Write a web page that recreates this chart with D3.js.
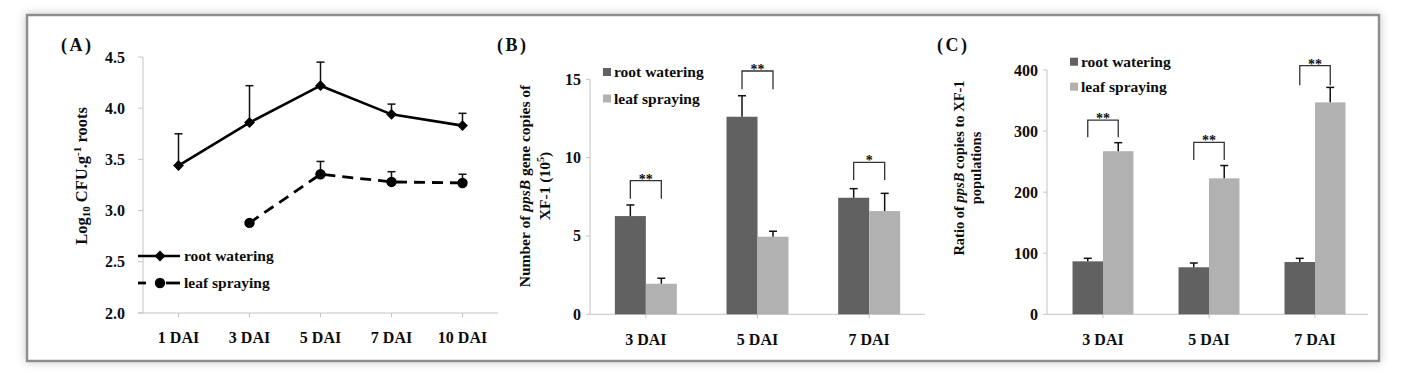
<!DOCTYPE html>
<html><head><meta charset="utf-8">
<script src="https://cdn.jsdelivr.net/npm/d3@7"></script>
<style>
body{margin:0;background:#fff;}
svg text{font-family:"Liberation Serif","Times New Roman",serif;font-weight:bold;fill:#0d0d0d;}
</style></head>
<body><svg id="chart" width="1408" height="382"></svg>
<script>
// ---------- data ----------
const catsA = ["1 DAI","3 DAI","5 DAI","7 DAI","10 DAI"];
const rootA = [3.44, 3.86, 4.22, 3.94, 3.83];
const rootAErr = [0.31, 0.36, 0.23, 0.10, 0.12];
const leafA = [null, 2.88, 3.355, 3.28, 3.27];
const leafAErr = [null, 0.0, 0.125, 0.10, 0.085];
const ticksA = [2.0, 2.5, 3.0, 3.5, 4.0, 4.5];

const catsBC = ["3 DAI","5 DAI","7 DAI"];
const seriesNames = ["root watering","leaf spraying"];
const rootB = [6.27, 12.61, 7.44];
const rootBErr = [0.71, 1.34, 0.58];
const leafB = [1.95, 4.95, 6.59];
const leafBErr = [0.35, 0.35, 1.13];
const ticksB = [0, 5, 10, 15];
const sigB = ["**","**","*"];
const sigBTop = [8.53, 15.53, 9.70];
const sigBLeg = [7.38, 14.36, 8.57];

const rootC = [86.7, 77.0, 85.6];
const rootCErr = [5.0, 7.0, 6.0];
const leafC = [267, 222.6, 347];
const leafCErr = [14, 21, 24.5];
const ticksC = [0, 100, 200, 300, 400];
const sigC = ["**","**","**"];
const sigCTop = [318, 281.5, 407];
const sigCLeg = [289.7, 252.5, 375];

const DARK = "#616161", LIGHT = "#b1b1b1", AXIS = "#c4c4c4";

const svg = d3.select("#chart");
const defs = svg.append("defs");
const f = defs.append("filter").attr("id","sh").attr("x","-5%").attr("y","-20%").attr("width","110%").attr("height","140%");
f.append("feDropShadow").attr("dx",0).attr("dy",0).attr("stdDeviation",5).attr("flood-color","#000").attr("flood-opacity",0.22);

svg.append("rect").attr("x",27).attr("y",15).attr("width",1352).attr("height",346)
  .attr("fill","#fff").attr("stroke","#8e8e8e").attr("stroke-width",2.5).attr("filter","url(#sh)");

// ---------- Panel A ----------
const xA = d3.scaleBand().domain(catsA).range([143, 498]);
const yA = d3.scaleLinear().domain([2, 4.5]).range([313, 57]);
const gA = svg.append("g");
gA.append("line").attr("x1",143).attr("x2",143).attr("y1",yA(4.5)).attr("y2",yA(2)).attr("stroke",AXIS);
gA.append("line").attr("x1",138).attr("x2",498).attr("y1",yA(2)).attr("y2",yA(2)).attr("stroke",AXIS);
ticksA.forEach(t=>{
  gA.append("line").attr("x1",138).attr("x2",143).attr("y1",yA(t)).attr("y2",yA(t)).attr("stroke",AXIS);
  gA.append("text").attr("x",125).attr("y",yA(t)+5.5).attr("text-anchor","end").attr("font-size",16).text(t.toFixed(1));
});
catsA.forEach(c=>{
  const cx = xA(c)+xA.bandwidth()/2;
  gA.append("line").attr("x1",cx).attr("x2",cx).attr("y1",yA(2)).attr("y2",yA(2)+4).attr("stroke",AXIS);
  gA.append("text").attr("x",cx).attr("y",343).attr("text-anchor","middle").attr("font-size",16).text(c);
});
const cxA = i => xA(catsA[i]) + xA.bandwidth()/2;
function errUp(g, x, y0, y1){
  g.append("line").attr("x1",x).attr("x2",x).attr("y1",y0).attr("y2",y1).attr("stroke","#111").attr("stroke-width",1.5);
  g.append("line").attr("x1",x-4).attr("x2",x+4).attr("y1",y1).attr("y2",y1).attr("stroke","#111").attr("stroke-width",1.5);
}
rootA.forEach((v,i)=>errUp(gA, cxA(i), yA(v), yA(v+rootAErr[i])));
leafA.forEach((v,i)=>{ if(v!=null && leafAErr[i]>0) errUp(gA, cxA(i), yA(v), yA(v+leafAErr[i])); });
const lineA = d3.line().defined(d=>d.v!=null).x(d=>cxA(d.i)).y(d=>yA(d.v));
gA.append("path").datum(rootA.map((v,i)=>({v,i}))).attr("d",lineA).attr("fill","none").attr("stroke","#000").attr("stroke-width",2.6);
gA.append("path").datum(leafA.map((v,i)=>({v,i}))).attr("d",lineA).attr("fill","none").attr("stroke","#000").attr("stroke-width",2.8).attr("stroke-dasharray","11,7");
const diamond = d3.symbol().type(d3.symbolDiamond2).size(75);
rootA.forEach((v,i)=>gA.append("path").attr("d",diamond()).attr("transform",`translate(${cxA(i)},${yA(v)})`).attr("fill","#000"));
leafA.forEach((v,i)=>{ if(v!=null) gA.append("circle").attr("cx",cxA(i)).attr("cy",yA(v)).attr("r",5.2).attr("fill","#000"); });
// legend A
gA.append("line").attr("x1",138).attr("x2",180).attr("y1",256).attr("y2",256).attr("stroke","#000").attr("stroke-width",2.6);
gA.append("path").attr("d",diamond()).attr("transform","translate(160,256)").attr("fill","#000");
gA.append("text").attr("x",184).attr("y",261).attr("font-size",15.5).text(seriesNames[0]);
gA.append("line").attr("x1",138).attr("x2",146).attr("y1",283).attr("y2",283).attr("stroke","#000").attr("stroke-width",2.8);
gA.append("line").attr("x1",166).attr("x2",180).attr("y1",283).attr("y2",283).attr("stroke","#000").attr("stroke-width",2.8);
gA.append("circle").attr("cx",160).attr("cy",283).attr("r",5.2).attr("fill","#000");
gA.append("text").attr("x",184).attr("y",288).attr("font-size",15.5).text(seriesNames[1]);
// y title A
const tA = gA.append("text").attr("transform","translate(87,176) rotate(-90)").attr("text-anchor","middle").attr("font-size",16.5);
tA.append("tspan").text("Log");
tA.append("tspan").attr("font-size",11).attr("dy",3).text("10");
tA.append("tspan").attr("dy",-3).text(" CFU.g");
tA.append("tspan").attr("font-size",11).attr("dy",-6).text("-1");
tA.append("tspan").attr("dy",6).text(" roots");
svg.append("text").attr("x",61).attr("y",51).attr("font-size",18).attr("letter-spacing",2.5).text("(A)");

// ---------- bar panels ----------
function barPanel(opt){
  const g = svg.append("g");
  const x0 = d3.scaleBand().domain(catsBC).range([opt.x0, opt.x1]).paddingInner(opt.pad).paddingOuter(opt.pad/2);
  const x1 = d3.scaleBand().domain(seriesNames).range([0, x0.bandwidth()]);
  const y = d3.scaleLinear().domain(opt.domain).range([opt.yb, opt.yt]);
  const axX = opt.axisX;
  g.append("line").attr("x1",axX).attr("x2",axX).attr("y1",y(opt.domain[1])).attr("y2",y(0)).attr("stroke",AXIS);
  g.append("line").attr("x1",axX).attr("x2",opt.x1).attr("y1",y(0)).attr("y2",y(0)).attr("stroke",AXIS);
  opt.ticks.forEach(t=>{
    g.append("line").attr("x1",axX-4).attr("x2",axX).attr("y1",y(t)).attr("y2",y(t)).attr("stroke",AXIS);
    g.append("text").attr("x",opt.labelX).attr("y",y(t)+5.5).attr("text-anchor","end").attr("font-size",16).text(t);
  });
  catsBC.forEach(c=>{
    const cx = x0(c)+x0.bandwidth()/2;
    g.append("line").attr("x1",cx).attr("x2",cx).attr("y1",y(0)).attr("y2",y(0)+4).attr("stroke",AXIS);
    g.append("text").attr("x",cx).attr("y",345).attr("text-anchor","middle").attr("font-size",16).text(c);
  });
  const sets = [[opt.root,opt.rootErr,DARK],[opt.leaf,opt.leafErr,LIGHT]];
  sets.forEach(([vals,errs,col],si)=>{
    vals.forEach((v,i)=>{
      const bx = x0(catsBC[i]) + x1(seriesNames[si]);
      g.append("rect").attr("x",bx).attr("y",y(v)).attr("width",x1.bandwidth()).attr("height",y(0)-y(v)).attr("fill",col);
      errUp(g, bx+x1.bandwidth()/2, y(v), y(v+errs[i]));
    });
  });
  opt.sig.forEach((s,i)=>{
    const a = x0(catsBC[i]) + x1(seriesNames[0]) + x1.bandwidth()/2;
    const b = x0(catsBC[i]) + x1(seriesNames[1]) + x1.bandwidth()/2;
    const yt = y(opt.sigTop[i]), yl = y(opt.sigLeg[i]);
    g.append("path").attr("d",`M${a},${yl}V${yt}H${b}V${yl}`).attr("fill","none").attr("stroke","#333").attr("stroke-width",1.3);
    g.append("text").attr("x",(a+b)/2).attr("y",yt+3).attr("text-anchor","middle").attr("font-size",14).text(s);
  });
  opt.legend.forEach((l,i)=>{
    g.append("rect").attr("x",l.x).attr("y",l.y-4).attr("width",8).attr("height",8).attr("fill",i?LIGHT:DARK);
    g.append("text").attr("x",l.x+11).attr("y",l.y+5).attr("font-size",15.5).text(seriesNames[i]);
  });
  return g;
}

const gB = barPanel({x0:590, x1:925, pad:0.445, axisX:590, domain:[0,15], yb:314.3, yt:79.3, ticks:ticksB, labelX:581,
  root:rootB, rootErr:rootBErr, leaf:leafB, leafErr:leafBErr, sig:sigB, sigTop:sigBTop, sigLeg:sigBLeg,
  legend:[{x:603,y:72},{x:603,y:98.5}]});
const tB1 = gB.append("text").attr("transform","translate(530,186) rotate(-90)").attr("text-anchor","middle").attr("font-size",15.5);
tB1.append("tspan").text("Number of ");
tB1.append("tspan").attr("font-style","italic").text("ppsB");
tB1.append("tspan").text(" gene copies of");
const tB2 = gB.append("text").attr("transform","translate(550,186) rotate(-90)").attr("text-anchor","middle").attr("font-size",15.5);
tB2.append("tspan").text("XF-1 (10");
tB2.append("tspan").attr("font-size",10).attr("dy",-6).text("5");
tB2.append("tspan").attr("dy",6).text(")");
svg.append("text").attr("x",497).attr("y",51).attr("font-size",18).attr("letter-spacing",2.5).text("(B)");

const gC = barPanel({x0:1050, x1:1368, pad:0.425, axisX:1047, domain:[0,400], yb:314.3, yt:70, ticks:ticksC, labelX:1038,
  root:rootC, rootErr:rootCErr, leaf:leafC, leafErr:leafCErr, sig:sigC, sigTop:sigCTop, sigLeg:sigCLeg,
  legend:[{x:1070,y:61.7},{x:1070,y:86.7}]});
const tC1 = gC.append("text").attr("transform","translate(964,168) rotate(-90)").attr("text-anchor","middle").attr("font-size",14.5);
tC1.append("tspan").text("Ratio of ");
tC1.append("tspan").attr("font-style","italic").text("ppsB");
tC1.append("tspan").text(" copies to XF-1");
gC.append("text").attr("transform","translate(981,168) rotate(-90)").attr("text-anchor","middle").attr("font-size",14.5).text("populations");
svg.append("text").attr("x",937).attr("y",51).attr("font-size",18).attr("letter-spacing",2.5).text("(C)");
</script></body></html>
